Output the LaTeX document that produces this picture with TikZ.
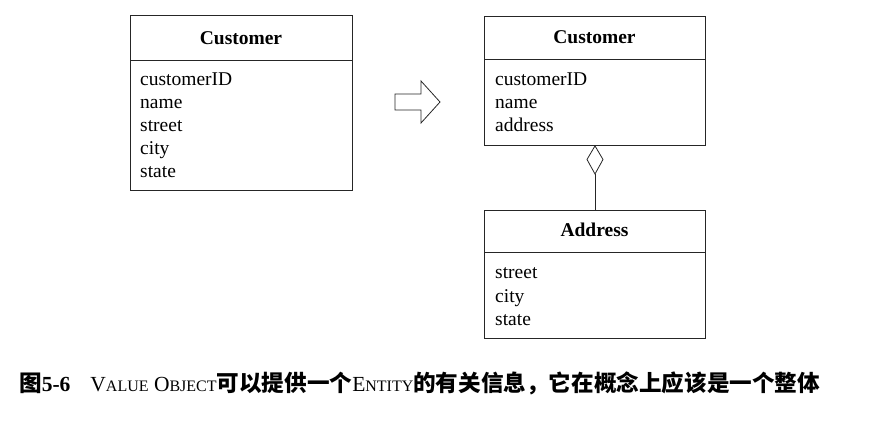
\documentclass[tikz,border=0pt]{standalone}
\usepackage{fontspec}
\setmainfont{Liberation Serif}
\newfontfamily\cjk{Noto Sans CJK SC}
\tikzset{
  box/.style={draw=black!85, line width=0.9pt, anchor=north west, inner sep=0pt},
  divider/.style={draw=black!85, line width=0.9pt},
  title/.style={anchor=base, inner sep=0pt, font=\fontsize{19.5}{19.5}\selectfont\bfseries},
  attr/.style={anchor=base west, inner sep=0pt, font=\fontsize{19.5}{19.5}\selectfont},
  conn/.style={draw=black!85, line width=0.8pt},
}
\newcommand{\capsm}[1]{{\fontsize{16}{16}\selectfont #1}}
\newcommand{\cjkb}[1]{{\cjk\bfseries\fontsize{22.6}{22.6}\selectfont #1}}
\begin{document}
\begin{tikzpicture}[x=1pt,y=-1pt]
\useasboundingbox (0,0) rectangle (876,422);
% left Customer
\node[box, minimum width=222pt, minimum height=175pt] (c1) at (130,15) {};
\draw[divider] (130,60) -- (352,60);
\node[title] (c1t) at (241,45) {Customer};
\node[attr] (c1a) at (140,86) {customerID};
\node[attr] (c1b) at (140,109) {name};
\node[attr] (c1c) at (140,132) {street};
\node[attr] (c1d) at (140,155) {city};
\node[attr] (c1e) at (140,178) {state};
% hollow arrow
\draw[conn, line join=miter] (395,94) -- (421,94) -- (421,81) -- (440,102) -- (421,123) -- (421,110) -- (395,110) -- cycle;
% right Customer
\node[box, minimum width=221pt, minimum height=129pt] (c2) at (484,16) {};
\draw[divider] (484,59) -- (705,59);
\node[title] (c2t) at (594.5,44) {Customer};
\node[attr] (c2a) at (495,86) {customerID};
\node[attr] (c2b) at (495,109) {name};
\node[attr] (c2c) at (495,132) {address};
% Address
\node[box, minimum width=221pt, minimum height=128pt] (ad) at (484,210) {};
\draw[divider] (484,252) -- (705,252);
\node[title] (adt) at (594.5,237) {Address};
\node[attr] (ada) at (495,279) {street};
\node[attr] (adb) at (495,302) {city};
\node[attr] (adc) at (495,325) {state};
% aggregation
\coordinate (dtop) at (c2.south -| 595,0);
\coordinate (dbot) at (595,174);
\draw[conn] (dtop) -- (603,159.5) -- (dbot) -- (587,159.5) -- cycle;
\draw[conn] (dbot) -- (ad.north -| dbot);
% caption
\node[anchor=base west, inner sep=0pt, font=\fontsize{21.5}{21.5}\selectfont] (cap) at (19,391)
 {\cjkb{图}\textbf{5-6}\hspace{20pt}V\capsm{ALUE} O\capsm{BJECT}\cjkb{可以提供一个}E\capsm{NTITY}\cjkb{的有关信息，它在概念上应该是一个整体}};
\end{tikzpicture}
\end{document}
